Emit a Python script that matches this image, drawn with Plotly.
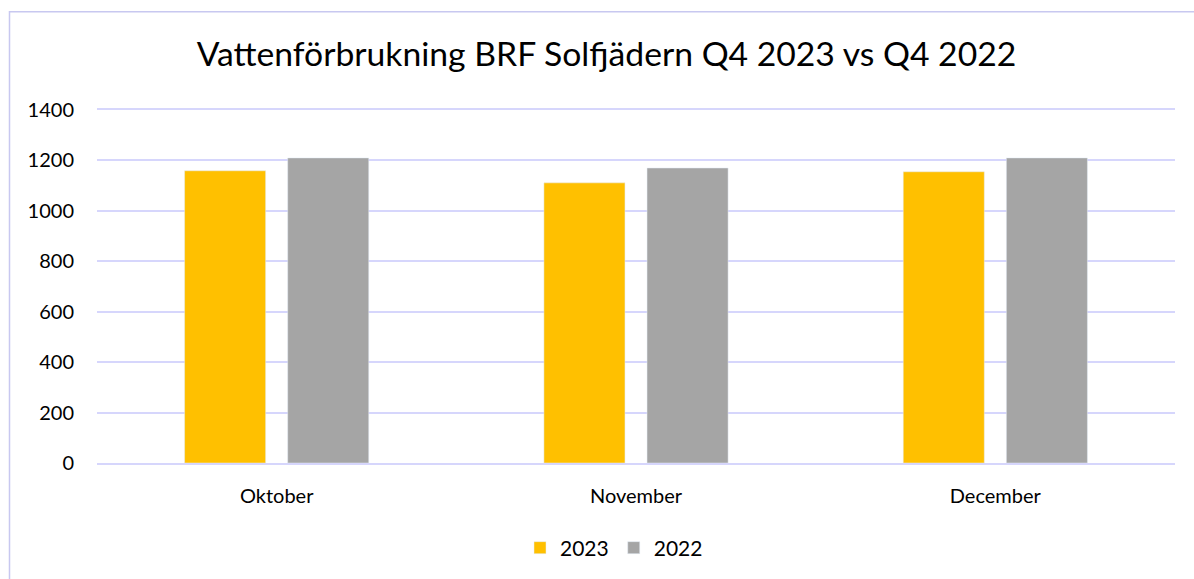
import plotly.graph_objects as go

months = ["Oktober", "November", "December"]
y2023 = [1159, 1111, 1155]
y2022 = [1210, 1170, 1210]
y_ticks = [0, 200, 400, 600, 800, 1000, 1200, 1400]

W, H = 1194, 579
L, R, T, B = 97, 19, 110, 115
pw, ph = W - L - R, H - T - B

fig = go.Figure()
fig.add_trace(go.Bar(name="2023", x=months, y=y2023, marker_color="#FFC000"))
fig.add_trace(go.Bar(name="2022", x=months, y=y2022, marker_color="#A5A5A5"))

grid = "#D6D6FC"
fig.update_layout(
    width=W, height=H,
    margin=dict(l=L, r=R, t=T, b=B),
    paper_bgcolor="white", plot_bgcolor="white",
    font=dict(family="Lato, Calibri, sans-serif", size=20, color="#000000"),
    title=dict(text="Vattenförbrukning BRF Solfjädern Q4 2023 vs Q4 2022",
               x=606.5 / W, xanchor="center", y=1 - 54 / H, yanchor="middle",
               font=dict(size=33.7, color="#000000")),
    barmode="group", bargap=0.426, bargroupgap=0.214,
    xaxis=dict(showgrid=False, showline=True, mirror=True, linecolor=grid, linewidth=2,
               ticks="outside", ticklen=14, tickcolor="rgba(0,0,0,0)",
               tickfont=dict(size=20)),
    yaxis=dict(range=[0, 1400], tickvals=y_ticks, showgrid=True, gridcolor=grid,
               gridwidth=2, zeroline=False, showline=False,
               ticks="outside", ticklen=18, tickcolor="rgba(0,0,0,0)",
               tickfont=dict(size=20)),
    legend=dict(orientation="h", x=(614 - L) / pw, xanchor="center",
                y=(464 - 548) / ph, yanchor="middle",
                font=dict(size=21), itemwidth=30, traceorder="normal"),
    shapes=[dict(type="rect", xref="paper", yref="paper",
                 x0=(9.5 - L) / pw, x1=1.3, y0=-0.6, y1=(464 - 11.5) / ph,
                 line=dict(color="#C8C8F0", width=1.5), layer="below")],
)
fig.write_html("out.html")
